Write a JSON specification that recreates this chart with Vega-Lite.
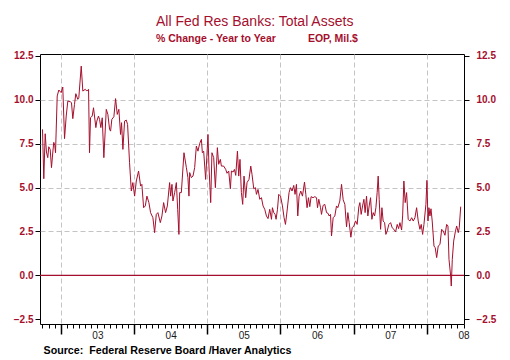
{
  "$schema": "https://vega.github.io/schema/vega-lite/v6.json",
  "width": 424,
  "height": 270,
  "autosize": "none",
  "padding": {"left": 40, "top": 54, "right": 46, "bottom": 36},
  "background": "white",
  "config": {"font": "Liberation Sans", "view": {"stroke": "black", "strokeWidth": 1}},
  "title": {
    "text": "All Fed Res Banks: Total Assets",
    "subtitle": "% Change - Year to Year\u00a0\u00a0\u00a0\u00a0\u00a0\u00a0\u00a0\u00a0\u00a0\u00a0 EOP, Mil.$",
    "anchor": "start",
    "frame": "group",
    "dx": 116,
    "color": "#a50f2d",
    "fontSize": 14,
    "fontWeight": "normal",
    "font": "Liberation Sans",
    "subtitleColor": "#a50f2d",
    "subtitleFontSize": 10.5,
    "subtitleFontWeight": "bold",
    "subtitleFont": "Liberation Sans",
    "subtitlePadding": 5,
    "offset": 6
  },
  "data": {"values": [
    {"year":2002.750,"pct":8.31},{"year":2002.768,"pct":5.50},{"year":2002.787,"pct":8.06},{"year":2002.804,"pct":7.02},{"year":2002.822,"pct":6.70},{"year":2002.836,"pct":7.32},{"year":2002.855,"pct":7.17},{"year":2002.873,"pct":6.13},{"year":2002.891,"pct":7.02},{"year":2002.904,"pct":7.57},{"year":2002.918,"pct":7.40},{"year":2002.928,"pct":6.98},{"year":2002.951,"pct":10.21},{"year":2002.973,"pct":10.55},
    {"year":2003.005,"pct":10.40},{"year":2003.027,"pct":10.72},{"year":2003.051,"pct":7.78},{"year":2003.074,"pct":9.07},{"year":2003.096,"pct":9.92},{"year":2003.129,"pct":9.88},{"year":2003.146,"pct":9.83},{"year":2003.164,"pct":8.92},{"year":2003.187,"pct":9.73},{"year":2003.205,"pct":10.34},{"year":2003.232,"pct":10.02},{"year":2003.246,"pct":10.11},{"year":2003.279,"pct":11.91},{"year":2003.301,"pct":10.49},{"year":2003.334,"pct":10.59},{"year":2003.355,"pct":10.49},{"year":2003.379,"pct":10.59},{"year":2003.392,"pct":6.98},{"year":2003.406,"pct":8.97},{"year":2003.429,"pct":9.07},{"year":2003.447,"pct":9.54},{"year":2003.479,"pct":8.41},{"year":2003.492,"pct":8.78},{"year":2003.515,"pct":9.07},{"year":2003.529,"pct":8.88},{"year":2003.547,"pct":8.41},{"year":2003.566,"pct":8.97},{"year":2003.588,"pct":6.70},{"year":2003.621,"pct":9.45},{"year":2003.643,"pct":9.16},{"year":2003.666,"pct":8.31},{"year":2003.680,"pct":8.21},{"year":2003.697,"pct":8.88},{"year":2003.725,"pct":9.03},{"year":2003.748,"pct":10.06},{"year":2003.771,"pct":9.16},{"year":2003.793,"pct":9.45},{"year":2003.816,"pct":8.02},{"year":2003.830,"pct":8.69},{"year":2003.848,"pct":7.17},{"year":2003.871,"pct":8.78},{"year":2003.894,"pct":8.84},{"year":2003.912,"pct":8.59},{"year":2003.939,"pct":6.41},{"year":2003.963,"pct":4.80},{"year":2003.984,"pct":5.28},
    {"year":2004.008,"pct":4.51},{"year":2004.031,"pct":5.37},{"year":2004.062,"pct":5.94},{"year":2004.090,"pct":5.08},{"year":2004.107,"pct":5.18},{"year":2004.131,"pct":3.85},{"year":2004.154,"pct":3.95},{"year":2004.176,"pct":4.51},{"year":2004.203,"pct":4.14},{"year":2004.226,"pct":3.57},{"year":2004.258,"pct":3.28},{"year":2004.281,"pct":2.43},{"year":2004.304,"pct":3.47},{"year":2004.326,"pct":3.57},{"year":2004.359,"pct":3.00},{"year":2004.381,"pct":3.38},{"year":2004.404,"pct":4.14},{"year":2004.431,"pct":3.57},{"year":2004.455,"pct":3.95},{"year":2004.486,"pct":5.28},{"year":2004.500,"pct":4.51},{"year":2004.518,"pct":5.18},{"year":2004.531,"pct":4.23},{"year":2004.555,"pct":4.71},{"year":2004.578,"pct":5.28},{"year":2004.596,"pct":3.76},{"year":2004.613,"pct":2.33},{"year":2004.623,"pct":4.71},{"year":2004.646,"pct":4.71},{"year":2004.682,"pct":6.98},{"year":2004.715,"pct":6.13},{"year":2004.736,"pct":5.56},{"year":2004.750,"pct":4.51},{"year":2004.760,"pct":5.85},{"year":2004.783,"pct":5.56},{"year":2004.805,"pct":5.65},{"year":2004.828,"pct":6.13},{"year":2004.851,"pct":7.36},{"year":2004.873,"pct":7.07},{"year":2004.896,"pct":7.50},{"year":2004.920,"pct":7.74},{"year":2004.933,"pct":6.98},{"year":2004.951,"pct":7.07},{"year":2004.978,"pct":5.46},
    {"year":2005.010,"pct":8.02},{"year":2005.023,"pct":6.22},{"year":2005.047,"pct":4.14},{"year":2005.064,"pct":6.98},{"year":2005.088,"pct":6.70},{"year":2005.111,"pct":4.99},{"year":2005.138,"pct":7.27},{"year":2005.156,"pct":6.32},{"year":2005.179,"pct":6.60},{"year":2005.193,"pct":6.22},{"year":2005.224,"pct":6.22},{"year":2005.252,"pct":6.03},{"year":2005.270,"pct":5.81},{"year":2005.293,"pct":5.94},{"year":2005.316,"pct":4.93},{"year":2005.330,"pct":5.94},{"year":2005.352,"pct":5.88},{"year":2005.371,"pct":6.03},{"year":2005.389,"pct":5.69},{"year":2005.412,"pct":7.07},{"year":2005.430,"pct":5.65},{"year":2005.447,"pct":6.60},{"year":2005.466,"pct":4.71},{"year":2005.484,"pct":4.04},{"year":2005.502,"pct":5.65},{"year":2005.525,"pct":4.42},{"year":2005.543,"pct":5.28},{"year":2005.570,"pct":5.46},{"year":2005.594,"pct":6.22},{"year":2005.611,"pct":5.75},{"year":2005.635,"pct":4.93},{"year":2005.658,"pct":4.99},{"year":2005.672,"pct":4.61},{"year":2005.693,"pct":4.89},{"year":2005.717,"pct":4.33},{"year":2005.740,"pct":4.42},{"year":2005.762,"pct":3.95},{"year":2005.785,"pct":3.76},{"year":2005.808,"pct":3.38},{"year":2005.830,"pct":3.23},{"year":2005.853,"pct":3.76},{"year":2005.877,"pct":3.19},{"year":2005.890,"pct":3.85},{"year":2005.908,"pct":3.57},{"year":2005.926,"pct":3.47},{"year":2005.940,"pct":3.19},{"year":2005.959,"pct":3.76},{"year":2005.976,"pct":4.61},
    {"year":2006.000,"pct":4.51},{"year":2006.027,"pct":3.95},{"year":2006.049,"pct":3.28},{"year":2006.068,"pct":2.90},{"year":2006.090,"pct":3.66},{"year":2006.117,"pct":4.71},{"year":2006.136,"pct":4.99},{"year":2006.158,"pct":4.80},{"year":2006.181,"pct":5.12},{"year":2006.199,"pct":4.61},{"year":2006.218,"pct":5.18},{"year":2006.236,"pct":3.38},{"year":2006.254,"pct":4.51},{"year":2006.277,"pct":4.80},{"year":2006.300,"pct":4.51},{"year":2006.328,"pct":5.31},{"year":2006.346,"pct":4.61},{"year":2006.363,"pct":3.85},{"year":2006.382,"pct":4.42},{"year":2006.400,"pct":3.91},{"year":2006.418,"pct":4.48},{"year":2006.445,"pct":4.42},{"year":2006.469,"pct":4.48},{"year":2006.492,"pct":4.42},{"year":2006.506,"pct":3.85},{"year":2006.523,"pct":4.33},{"year":2006.547,"pct":3.85},{"year":2006.560,"pct":3.47},{"year":2006.582,"pct":3.98},{"year":2006.605,"pct":4.04},{"year":2006.629,"pct":3.57},{"year":2006.650,"pct":3.53},{"year":2006.664,"pct":3.38},{"year":2006.683,"pct":3.47},{"year":2006.697,"pct":2.24},{"year":2006.719,"pct":3.28},{"year":2006.742,"pct":3.38},{"year":2006.765,"pct":3.95},{"year":2006.783,"pct":3.85},{"year":2006.810,"pct":4.23},{"year":2006.834,"pct":5.18},{"year":2006.856,"pct":4.30},{"year":2006.879,"pct":4.04},{"year":2006.902,"pct":2.76},{"year":2006.920,"pct":3.57},{"year":2006.938,"pct":3.00},{"year":2006.961,"pct":2.17},{"year":2006.979,"pct":2.71},
    {"year":2007.002,"pct":2.81},{"year":2007.025,"pct":3.10},{"year":2007.047,"pct":2.90},{"year":2007.070,"pct":3.90},{"year":2007.084,"pct":4.14},{"year":2007.102,"pct":3.47},{"year":2007.121,"pct":3.95},{"year":2007.139,"pct":4.33},{"year":2007.156,"pct":3.57},{"year":2007.175,"pct":4.51},{"year":2007.193,"pct":3.38},{"year":2007.211,"pct":3.95},{"year":2007.230,"pct":4.42},{"year":2007.248,"pct":3.19},{"year":2007.266,"pct":3.57},{"year":2007.285,"pct":3.38},{"year":2007.303,"pct":3.85},{"year":2007.320,"pct":4.71},{"year":2007.334,"pct":5.65},{"year":2007.348,"pct":4.33},{"year":2007.367,"pct":2.62},{"year":2007.385,"pct":3.85},{"year":2007.402,"pct":3.09},{"year":2007.422,"pct":3.00},{"year":2007.439,"pct":2.33},{"year":2007.457,"pct":2.52},{"year":2007.480,"pct":2.90},{"year":2007.504,"pct":3.00},{"year":2007.525,"pct":2.71},{"year":2007.549,"pct":2.62},{"year":2007.572,"pct":2.47},{"year":2007.594,"pct":2.90},{"year":2007.613,"pct":2.66},{"year":2007.631,"pct":3.00},{"year":2007.654,"pct":2.58},{"year":2007.668,"pct":3.38},{"year":2007.685,"pct":5.37},{"year":2007.703,"pct":4.14},{"year":2007.722,"pct":4.71},{"year":2007.744,"pct":3.19},{"year":2007.767,"pct":3.09},{"year":2007.791,"pct":3.28},{"year":2007.813,"pct":3.09},{"year":2007.836,"pct":3.28},{"year":2007.859,"pct":3.85},{"year":2007.881,"pct":3.09},{"year":2007.904,"pct":2.62},{"year":2007.922,"pct":2.90},{"year":2007.941,"pct":2.33},{"year":2007.959,"pct":2.90},{"year":2007.986,"pct":4.04},
    {"year":2008.000,"pct":5.41},{"year":2008.014,"pct":3.09},{"year":2008.027,"pct":3.85},{"year":2008.041,"pct":3.38},{"year":2008.055,"pct":3.79},{"year":2008.072,"pct":3.09},{"year":2008.096,"pct":1.67},{"year":2008.113,"pct":1.57},{"year":2008.133,"pct":1.01},{"year":2008.154,"pct":1.67},{"year":2008.178,"pct":1.76},{"year":2008.201,"pct":2.62},{"year":2008.223,"pct":2.52},{"year":2008.246,"pct":2.28},{"year":2008.269,"pct":2.90},{"year":2008.287,"pct":2.81},{"year":2008.301,"pct":0.91},{"year":2008.324,"pct":-0.04},{"year":2008.332,"pct":-0.61},{"year":2008.346,"pct":0.91},{"year":2008.365,"pct":1.95},{"year":2008.387,"pct":2.47},{"year":2008.406,"pct":2.81},{"year":2008.428,"pct":2.43},{"year":2008.441,"pct":2.71},{"year":2008.461,"pct":3.91}
  ]},
  "layer": [
    {
      "mark": {"type": "point", "opacity": 0},
      "encoding": {
        "x": {
          "field": "year", "type": "quantitative",
          "scale": {"domain": [2002.716, 2008.506], "nice": false, "zero": false},
          "axis": {
            "orient": "bottom",
            "values": [2003.5, 2004.5, 2005.5, 2006.5, 2007.5, 2008.5],
            "tickOffset": -36.61, "labelOffset": 36.61,
            "labelExpr": "substring(toString(floor(datum.value)), 2)",
            "grid": true, "gridDash": [5, 3], "gridColor": "#c4c4c4", "gridWidth": 1,
            "tickSize": 10, "tickWidth": 1.5, "tickColor": "black",
            "domain": false,
            "labelFontSize": 10, "labelColor": "#1a1a1a", "labelPadding": -3.5,
            "labelFlush": false, "labelOverlap": false,
            "title": "Source:\u00a0\u00a0Federal Reserve Board /Haver Analytics",
            "titleAnchor": "start", "titleAlign": "left", "titleX": 3, "titleY": 29,
            "titleBaseline": "alphabetic", "titleFontSize": 10.7, "titleFontWeight": "bold", "titleColor": "black"
          }
        },
        "y": {
          "field": "pct", "type": "quantitative",
          "scale": {"domain": [-2.77, 12.6], "nice": false, "zero": false},
          "axis": {"orient": "left", "values": [2.5, 5, 7.5, 10], "grid": true, "gridDash": [5, 3], "gridColor": "#c4c4c4", "ticks": false, "labels": false, "domain": false, "title": null}
        }
      }
    },
    {
      "mark": {"type": "rule", "color": "#a50f2d", "strokeWidth": 1.2},
      "data": {"values": [{"pct": 0}]},
      "encoding": {
        "y": {
          "field": "pct", "type": "quantitative",
          "axis": {"orient": "right", "values": [-2.5, 0, 2.5, 5, 7.5, 10, 12.5], "format": ".1f", "grid": false, "tickSize": 5, "tickColor": "black", "domain": false, "labelColor": "#a50f2d", "labelFontWeight": "bold", "labelFontSize": 10, "labelPadding": 7, "title": null}
        }
      }
    },
    {
      "mark": {"type": "line", "color": "#a50f2d", "strokeWidth": 1},
      "encoding": {
        "x": {
          "field": "year", "type": "quantitative",
          "axis": {
            "orient": "bottom",
            "values": [2002.75, 2002.8333, 2002.9167, 2003, 2003.0833, 2003.1667, 2003.25, 2003.3333, 2003.4167, 2003.5, 2003.5833, 2003.6667, 2003.75, 2003.8333, 2003.9167, 2004, 2004.0833, 2004.1667, 2004.25, 2004.3333, 2004.4167, 2004.5, 2004.5833, 2004.6667, 2004.75, 2004.8333, 2004.9167, 2005, 2005.0833, 2005.1667, 2005.25, 2005.3333, 2005.4167, 2005.5, 2005.5833, 2005.6667, 2005.75, 2005.8333, 2005.9167, 2006, 2006.0833, 2006.1667, 2006.25, 2006.3333, 2006.4167, 2006.5, 2006.5833, 2006.6667, 2006.75, 2006.8333, 2006.9167, 2007, 2007.0833, 2007.1667, 2007.25, 2007.3333, 2007.4167, 2007.5, 2007.5833, 2007.6667, 2007.75, 2007.8333, 2007.9167, 2008, 2008.0833, 2008.1667, 2008.25, 2008.3333, 2008.4167, 2008.5],
            "labels": false, "grid": false, "tickSize": 4, "tickColor": "black", "domain": false, "title": null
          }
        },
        "y": {
          "field": "pct", "type": "quantitative",
          "axis": {"orient": "left", "values": [-2.5, 0, 2.5, 5, 7.5, 10, 12.5], "format": ".1f", "grid": false, "tickSize": 5, "tickColor": "black", "domain": false, "labelColor": "#a50f2d", "labelFontWeight": "bold", "labelFontSize": 10, "labelPadding": 2, "title": null}
        }
      }
    }
  ],
  "resolve": {"axis": {"x": "independent", "y": "independent"}}
}
